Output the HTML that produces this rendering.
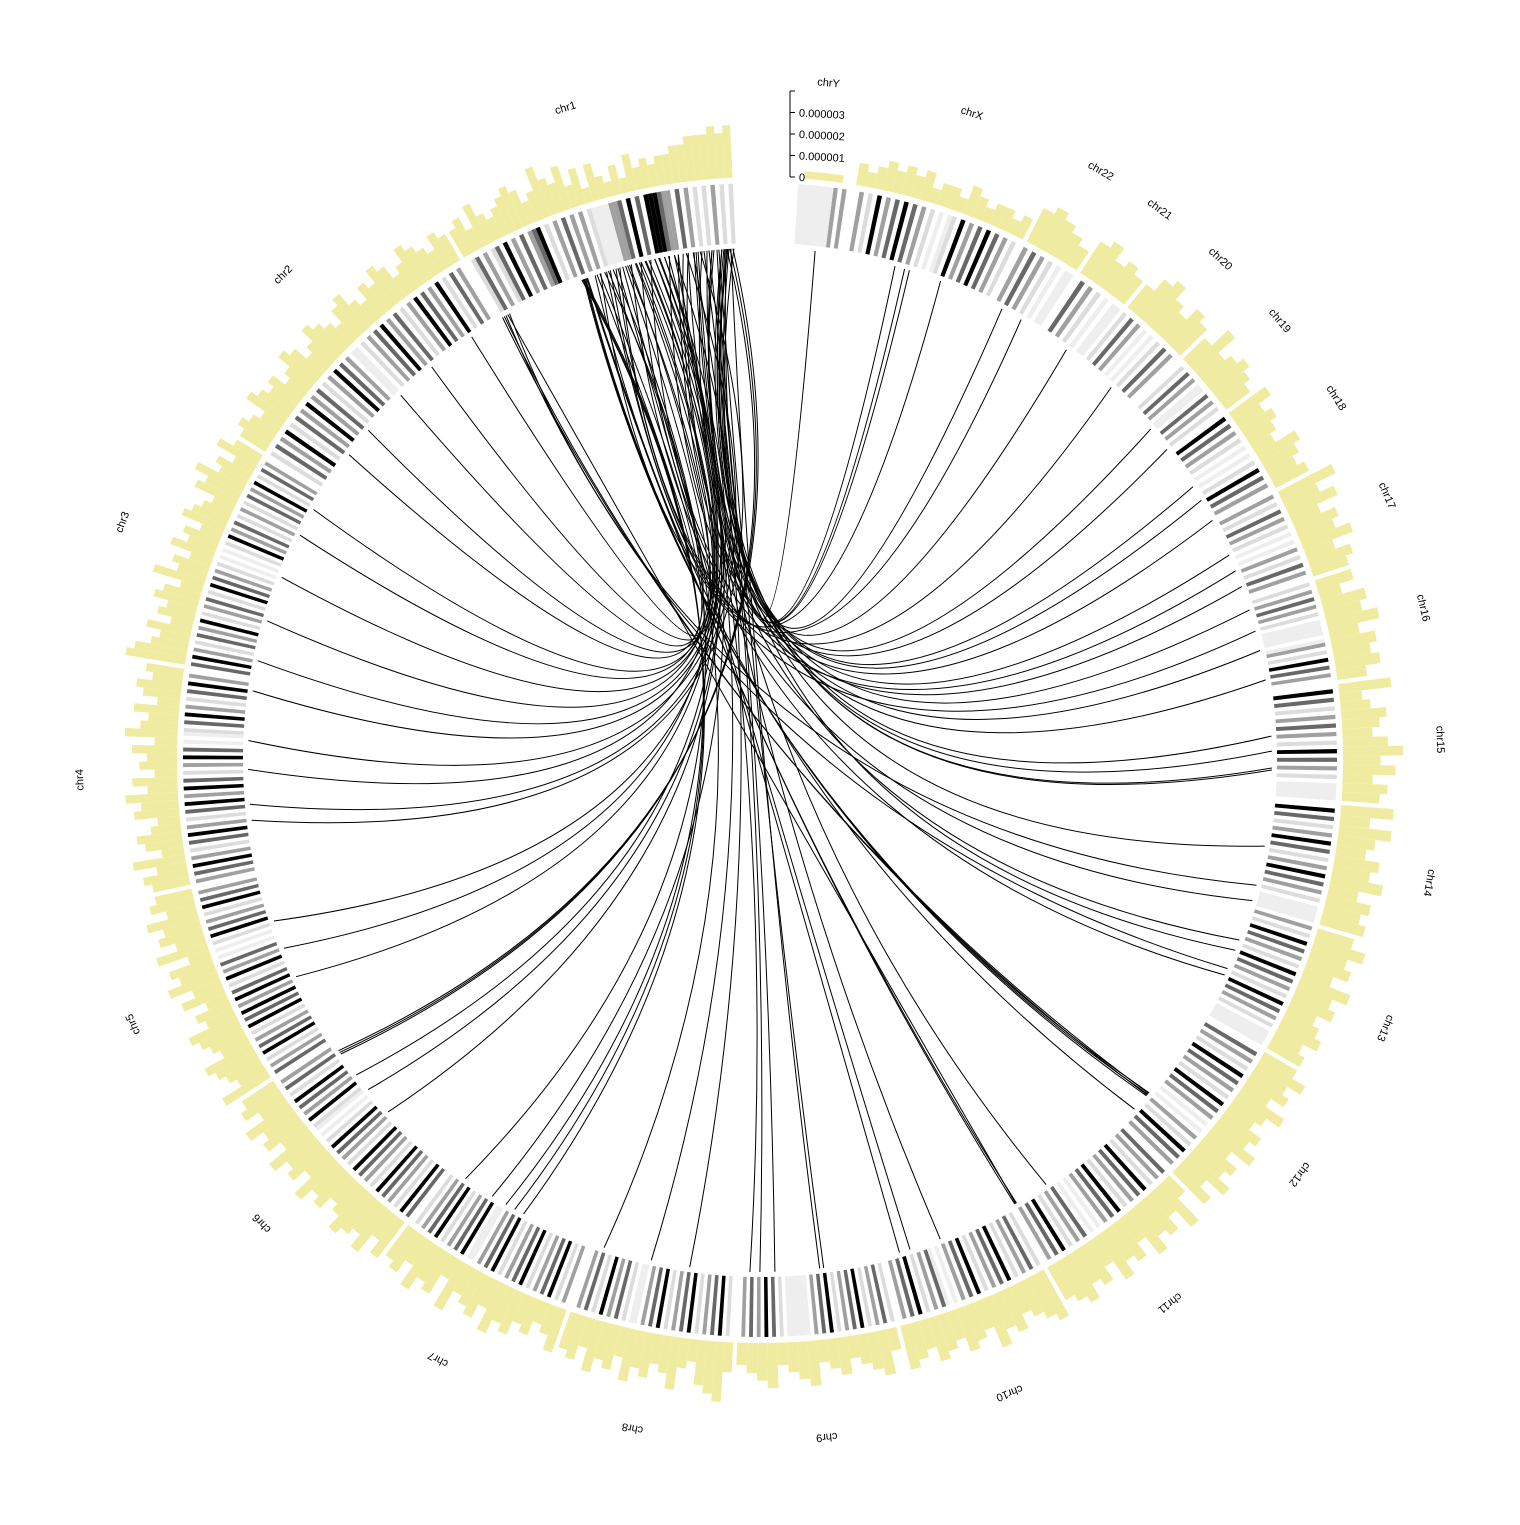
<!DOCTYPE html>
<html><head><meta charset="utf-8"><style>
html,body{margin:0;padding:0;background:#fff;}
svg text{font-family:"Liberation Sans",sans-serif;}
</style></head><body>
<svg id="chart" width="1520" height="1520" viewBox="0 0 1520 1520" xmlns="http://www.w3.org/2000/svg">
<g id="hist"></g>
<g id="ideo"></g>
<g id="links"></g>
<g id="labels"></g>
<g id="axis"></g>
</svg>
<script>
const chrNames=["chr1","chr2","chr3","chr4","chr5","chr6","chr7","chr8","chr9","chr10","chr11","chr12","chr13","chr14","chr15","chr16","chr17","chr18","chr19","chr20","chr21","chr22","chrX","chrY"];
const chrLen=[249,243,198,191,181,171,159,146,141,136,135,134,115,107,103,90,81,78,59,63,48,51,155,59];
// cytoband stain codes per chromosome: 0 gneg,1 gpos25,2 gpos50,3 gpos75,4 gpos100,g gvar
const bands=[
"1010201010203022344403040322gggg102020302010432030204031020310",
"0203010402030402010302040302010gg020304020103020402030104020301",
"020301040203010201030204010g0g010203040103020104020301020403",
"0204030102040301g0g030402010304020403010204030102040302",
"02030401020304010g0g0302040103040204030401020304010203",
"0203010403020401g0g010403020104030201040302010403",
"01020304010203040gg020304010203040102030401020",
"020301040203010gg0203040102030401020304010",
"0203020403010gggggg0203040102030401020301",
"020304010203g0g0203040102030401020301",
"0203040102030g0g02030401020304010203",
"02030401020g0g020304010203040102030",
"gggg0102030401020304010203040102",
"gggg0102030402010304020103040",
"gggg01020304010203020103040",
"0203040102g0gggg0102030201",
"020301020g0g0102030102",
"020304010g0g01020304",
"0102030gg0203010",
"0203010g0g020301",
"gg0g0102030",
"gg0g01020302",
"0102030403020401g0g0102030403020401020",
"0202gggggggg000"
];
// histogram values per chromosome, digit d -> d*0.35e-6
const hist=[
"76766655443435242352536457435654346354",
"4534564356453465345643564354563454",
"4635475634563546354735645364578",
"5465364573645364756346537465",
"56475647365746354765476547",
"5647564756475645765746",
"56475637456475645346",
"5647564756457436784",
"3456345634534563",
"6546546547564567",
"5675647564756473",
"64756475645746575",
"5465465746575",
"656475645747",
"5647586456437",
"4656475635",
"5647564758",
"545634546",
"4565474",
"5645764",
"45465",
"34565",
"3233234233243434323",
"0111100"
];
const links=[
[0,19,23,26],[0,38,22,103],[0,40,22,93],[0,42,22,88],[0,10,21,42],[0,29,20,17],[0,58,18,4],[0,14,17,24],[0,67,17,1],[0,24,16,47],[0,86,16,13],[0,12,15,82],[0,34,15,40],[0,48,15,10],[0,8,14,26],[0,9,14,28],[0,96,13,4],[0,53,12,81],[0,106,12,43],[0,154,11,36],[0,155,11,38],[0,156,11,40],[0,144,11,18],[0,152,10,3],[0,153,10,5],[0,115,9,28],[0,120,9,17],[0,5,8,80],[0,17,8,84],[0,27,8,35],[0,32,8,20],[0,43,7,99],[0,125,7,11],[0,158,6,86],[0,157,6,76],[0,156,6,66],[0,134,6,18],[0,77,5,90],[0,91,5,41],[0,3,5,11],[0,6,5,13],[0,9,5,15],[0,96,4,79],[0,36,3,141],[0,50,3,125],[0,62,3,61],[0,72,3,11],[0,82,2,182],[0,101,2,141],[0,110,2,49],[0,130,1,201],[0,139,1,122],[0,142,1,30],
[0,244,11,37],[0,246,11,39],[0,240,10,4],[0,242,12,50],[0,238,13,20],
[0,14,14,45],[0,22,13,60],[0,24,12,70],[0,48,10,40],[0,58,9,60],[0,62,8,10],[0,68,7,60],[0,72,6,50],[0,78,5,60],[0,82,4,50],[0,88,4,110],[0,92,3,90],[0,98,2,95],[0,102,2,20],[0,108,1,170],[0,112,1,80],[0,118,16,30],[0,122,19,25],[0,128,21,20],[0,132,22,55],[0,138,15,60],[0,2,14,60],[0,7,17,40],[0,11,18,30]
];
const axisTicks=[0,0.000001,0.000002,0.000003];
const axisLabels=["0","0.000001","0.000002","0.000003"];

const NS="http://www.w3.org/2000/svg";
const CX=760,CY=760,K=0.11174,GAP=0.4,START=357.3;
const R_IN=517,R_OUT=577,H0=583,PXPER=21.5e6,LINK_R=512,HSCALE=0.35e-6;
const starts=[];{let s=START;for(let i=0;i<chrLen.length;i++){starts.push(s);s-=chrLen[i]*K+GAP;}}
function ang(c,p){return starts[c]-p*K;}
function pt(t,r){const a=t*Math.PI/180;return [CX+r*Math.sin(a),CY-r*Math.cos(a)];}
function sector(t1,t2,r1,r2){const a=pt(t1,r2),b=pt(t2,r2),c=pt(t2,r1),d=pt(t1,r1);const L=Math.abs(t1-t2)>180?1:0;
return `M${a[0].toFixed(2)},${a[1].toFixed(2)}A${r2},${r2} 0 ${L} 0 ${b[0].toFixed(2)},${b[1].toFixed(2)}L${c[0].toFixed(2)},${c[1].toFixed(2)}A${r1},${r1} 0 ${L} 1 ${d[0].toFixed(2)},${d[1].toFixed(2)}Z`;}
function mk(tag,parent,attrs){const e=document.createElementNS(NS,tag);for(const k in attrs)e.setAttribute(k,attrs[k]);parent.appendChild(e);return e;}
const stainCol={"0":null,"1":"#dcdcdc","2":"#a0a0a0","3":"#686868","4":"#000000","g":"#eeeeee"};
const gI=document.getElementById('ideo'),gH=document.getElementById('hist'),gL=document.getElementById('links'),gT=document.getElementById('labels'),gA=document.getElementById('axis');
for(let c=0;c<chrLen.length;c++){
  const s=bands[c],w=chrLen[c]/s.length;
  for(let i=0;i<s.length;i++){const col=stainCol[s[i]];if(!col)continue;
    const e=mk('path',gI,{d:sector(ang(c,i*w),ang(c,(i+1)*w),R_IN,R_OUT),fill:col});
    
    }
  const h=hist[c],hw=chrLen[c]/h.length;
  for(let i=0;i<h.length;i++){const v=(+h[i])*HSCALE;if(v<=0)continue;
    const e=mk('path',gH,{d:sector(ang(c,i*hw),ang(c,(i+1)*hw),H0,H0+v*PXPER),fill:"#efeca2"});
    
    }
  const tm=ang(c,chrLen[c]/2),lp=pt(tm,680);
  const t=mk('text',gT,{x:lp[0],y:lp[1],"font-size":"11","text-anchor":"middle","dominant-baseline":"middle",transform:`rotate(${tm} ${lp[0]} ${lp[1]})`});
  t.textContent=chrNames[c];
  
  
}
const PUSH=0.45;
for(const L of links){const a=pt(ang(L[0],L[1]),LINK_R),b=pt(ang(L[2],L[3]),LINK_R);
  const mx=(a[0]+b[0])/2,my=(a[1]+b[1])/2;
  const qx=CX+(CX-mx)*PUSH,qy=CY+(CY-my)*PUSH;
  const e=mk('path',gL,{d:`M${a[0].toFixed(1)},${a[1].toFixed(1)}Q${qx.toFixed(1)},${qy.toFixed(1)} ${b[0].toFixed(1)},${b[1].toFixed(1)}`,fill:"none",stroke:"#000","stroke-width":"1"});
  
  }
// axis
const ax=790,y0=CY-H0;
const al=mk('line',gA,{x1:ax,y1:y0,x2:ax,y2:y0-4e-6*PXPER,stroke:"#000","stroke-width":"1"});

for(let i=0;i<axisTicks.length+1;i++){const v=i<axisTicks.length?axisTicks[i]:0.000004;const y=y0-v*PXPER;
  const tk=mk('line',gA,{x1:ax,y1:y,x2:ax+5,y2:y,stroke:"#000","stroke-width":"1"});
  
  if(i<axisLabels.length){const t=mk('text',gA,{x:ax+9,y:y+4,"font-size":"11",transform:`rotate(3 ${ax+9} ${y})`});t.textContent=axisLabels[i];
  }}
</script>
</body></html>
